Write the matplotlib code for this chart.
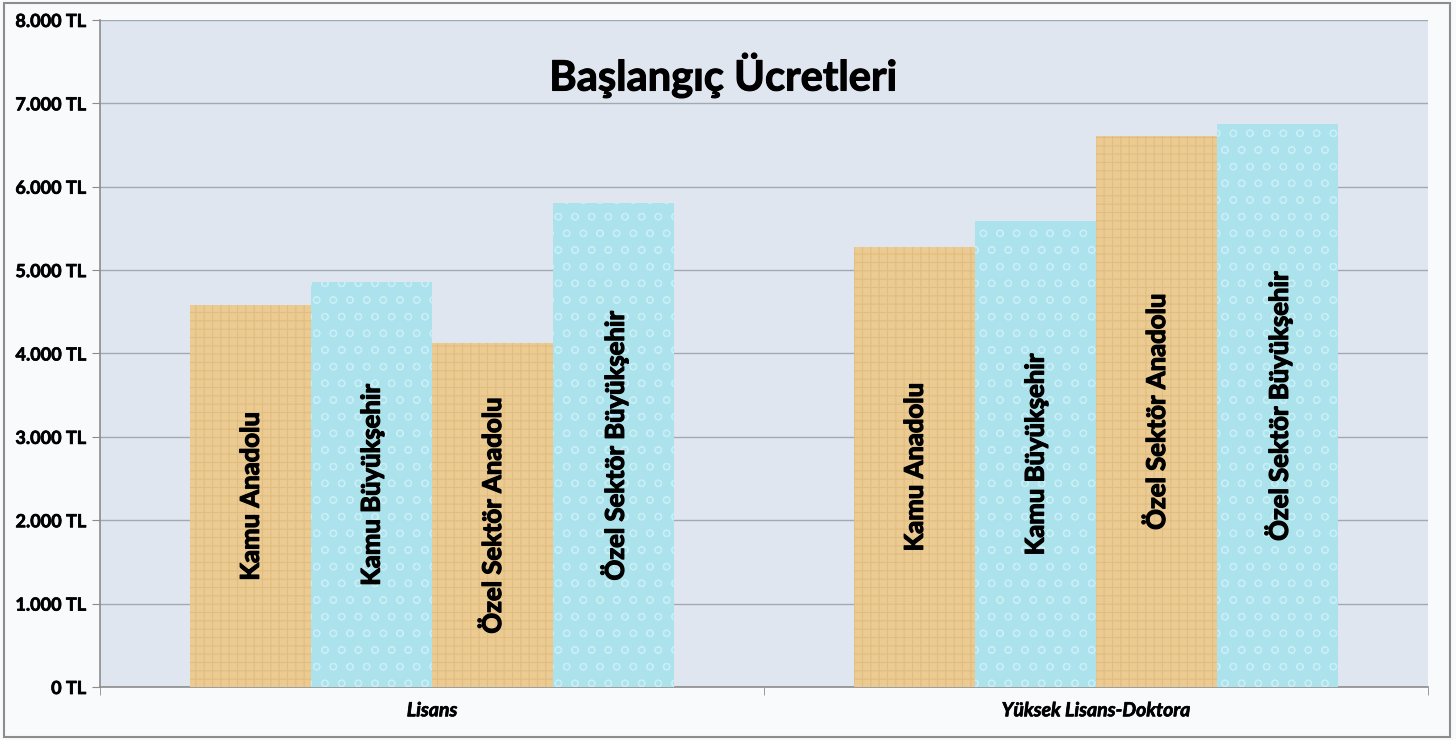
import matplotlib.pyplot as plt
import matplotlib.patheffects as pe
import numpy as np
from matplotlib.patches import Rectangle
from matplotlib.ticker import FuncFormatter, FixedLocator

plt.rcParams["font.family"] = ["Lato", "DejaVu Sans"]
plt.rcParams["hatch.linewidth"] = 0.8

categories = ["Lisans", "Yüksek Lisans-Doktora"]
series = ["Kamu Anadolu", "Kamu Büyükşehir", "Özel Sektör Anadolu", "Özel Sektör Büyükşehir"]
values = {
    "Kamu Anadolu": [4580, 5280],
    "Kamu Büyükşehir": [4860, 5590],
    "Özel Sektör Anadolu": [4120, 6610],
    "Özel Sektör Büyükşehir": [5800, 6750],
}
y_ticks = [0, 1000, 2000, 3000, 4000, 5000, 6000, 7000, 8000]

tan = ("#ebcb91", "#e0bd80", "++")
aqua = ("#ace2eb", "#c8eff5", "o")
styles = [tan, aqua, tan, aqua]
thick = [pe.withStroke(linewidth=0.9, foreground="black")]

fig = plt.figure(figsize=(14.56, 7.4), dpi=100)
fig.patch.set_facecolor("#f8fafc")
fig.patches.append(Rectangle((0.003, 0.004), 0.993, 0.992, transform=fig.transFigure,
                             fill=False, edgecolor="#8c8c8c", linewidth=1.5))

ax = fig.add_axes([0.0687, 0.0716, 0.9121, 0.9014])
ax.set_facecolor("#dfe6f0")

w = 0.182
centers = np.arange(len(categories)) + 0.5
for i, name in enumerate(series):
    fc, hc, hatch = styles[i]
    xs = centers + (i - 1.5) * w
    ax.bar(xs, values[name], width=w, color=fc, edgecolor=hc, hatch=hatch,
           linewidth=0, zorder=3)
    for x, v in zip(xs, values[name]):
        ax.text(x, v / 2, name, rotation=90, ha="center", va="center",
                fontsize=18.5, fontweight="bold", color="black", zorder=4,
                path_effects=thick)

ax.set_xlim(0, 2)
ax.set_ylim(0, 8000)
ax.yaxis.set_major_locator(FixedLocator(y_ticks))
ax.yaxis.set_major_formatter(FuncFormatter(lambda v, p: f"{int(v):,} TL".replace(",", ".")))
ax.grid(axis="y", color="#a3a9b0", linewidth=1.0, zorder=0)
ax.set_axisbelow(True)

ax.set_xticks(centers)
ax.set_xticklabels(categories, fontsize=14, fontweight="bold", style="italic")
ax.xaxis.set_minor_locator(FixedLocator([0, 1, 2]))
ax.tick_params(axis="x", which="major", length=0, pad=11)
ax.tick_params(axis="x", which="minor", length=6, color="#8c8c8c")
ax.tick_params(axis="y", length=6, color="#8c8c8c", labelsize=13, pad=4)
for lbl in ax.get_yticklabels() + ax.get_xticklabels():
    lbl.set_fontweight("bold")
    lbl.set_path_effects([pe.withStroke(linewidth=0.5, foreground="black")])

for side in ["top", "right"]:
    ax.spines[side].set_visible(False)
for side in ["left", "bottom"]:
    ax.spines[side].set_color("#8c8c8c")
    ax.spines[side].set_linewidth(1.2)

fig.text(0.4966, 0.899, "Başlangıç Ücretleri", ha="center", va="center",
         fontsize=30, fontweight="bold", color="black", zorder=5,
         path_effects=[pe.withStroke(linewidth=0.8, foreground="black")])

fig.savefig("out.png", dpi=100, facecolor=fig.get_facecolor())
